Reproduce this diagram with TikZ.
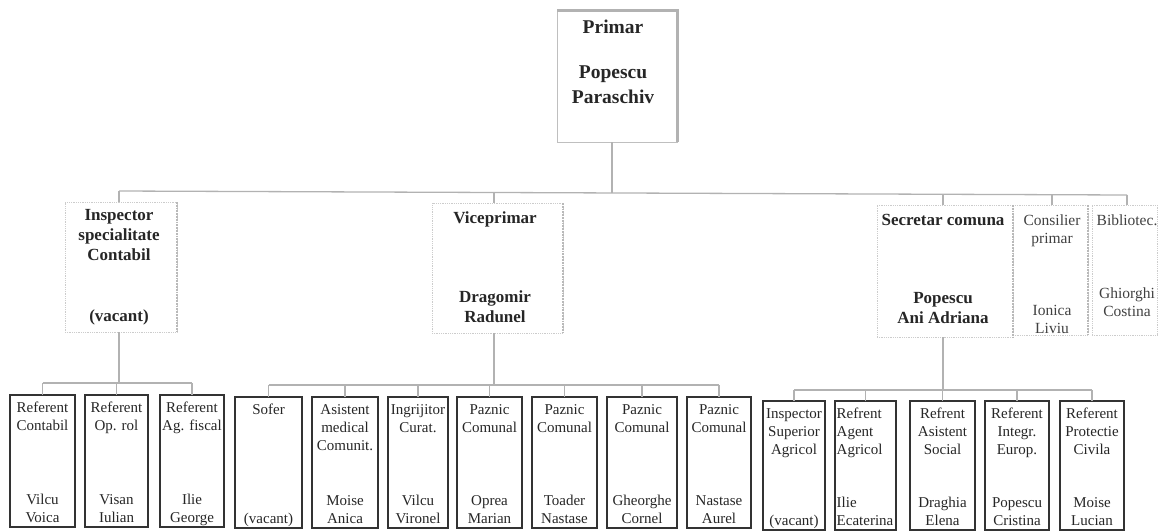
\documentclass[tikz,border=0pt]{standalone}
\usepackage{fontspec}
\setmainfont{Liberation Serif}
\begin{document}
\begin{tikzpicture}[x=1pt,y=-1pt,
  conn/.style={draw=gray!60, line width=1.3pt},
  bbox/.style={draw=black!80, line width=1.1pt, inner sep=0pt, outer sep=0pt},
  btext/.style={font=\fontsize{15}{18}\selectfont, align=center, inner sep=0pt, text=black!85},
  btextl/.style={btext, align=left},
  mbox/.style={draw=gray!40, densely dotted, line width=0.8pt, inner sep=0pt, outer sep=0pt},
  mshadow/.style={draw=gray!55, densely dotted, line width=1.8pt},
  mhead/.style={font=\bfseries\fontsize{17}{20}\selectfont, align=center, inner sep=0pt, text=black!85},
  mreg/.style={font=\fontsize{15.5}{18.5}\selectfont, align=center, inner sep=0pt, text=black!75},
  pbox/.style={draw=gray!50, line width=0.8pt, inner sep=0pt, outer sep=0pt},
  pshadow/.style={draw=gray!60, line width=3pt},
  ptext/.style={font=\bfseries\fontsize{19.5}{25}\selectfont, align=center, inner sep=0pt, text=black!85}]
\useasboundingbox (0,0) rectangle (1159,531);
\newcommand\bb[7]{%
  \pgfmathsetmacro\mybw{#3-#2}\pgfmathsetmacro\mybh{#5-#4}%
  \pgfmathsetmacro\mybx{(#2+#3)/2}\pgfmathsetmacro\myby{(#4+#5)/2}%
  \node[bbox, minimum width=\mybw pt, minimum height=\mybh pt] (#1) at (\mybx,\myby) {};
  \node[btext, anchor=north] (#1-t) at ([yshift=-4.5pt]#1.north) {\strut #6};
  \node[btext, anchor=south] (#1-b) at ([yshift=-1pt]#1.south) {#7\strut};}
\newcommand\bbl[7]{%
  \pgfmathsetmacro\mybw{#3-#2}\pgfmathsetmacro\mybh{#5-#4}%
  \pgfmathsetmacro\mybx{(#2+#3)/2}\pgfmathsetmacro\myby{(#4+#5)/2}%
  \node[bbox, minimum width=\mybw pt, minimum height=\mybh pt] (#1) at (\mybx,\myby) {};
  \node[btextl, anchor=north west] (#1-t) at ([xshift=1.5pt,yshift=-4.5pt]#1.north west) {\strut #6};
  \node[btextl, anchor=south west] (#1-b) at ([xshift=1.5pt,yshift=-1pt]#1.south west) {#7\strut};}

% ---- Primar ----
\node[pbox, minimum width=120pt, minimum height=132pt] (primar) at (617,76) {};
\draw[pshadow] (primar.north west) -- (primar.north east) -- (primar.south east);
\node[ptext, anchor=base] (primarT) at (613,33) {Primar};
\node[ptext, anchor=north] (primarN) at (613,61) {\strut Popescu\\Paraschiv};

% ---- middle level ----
\node[mbox, minimum width=112pt, minimum height=130pt] (insp) at (121,267) {};
\node[mbox, minimum width=131pt, minimum height=130pt] (vice) at (497.5,268) {};
\node[mbox, minimum width=136pt, minimum height=132pt] (secr) at (945,271) {};
\node[mbox, minimum width=75pt, minimum height=130pt] (cons) at (1050.5,270) {};
\node[mbox, minimum width=65pt, minimum height=130pt] (bib) at (1124.5,270) {};
\foreach \b in {insp,vice,secr,cons}{\draw[mshadow] (\b.north east) -- (\b.south east);}

\node[mhead, anchor=north] (inspT) at (119,206.6) {\strut Inspector\\specialitate\\Contabil};
\node[mhead, anchor=base] (inspB) at (119,321) {(vacant)};
\node[mhead, anchor=base] (viceT) at (495,223.6) {Viceprimar};
\node[mhead, anchor=north] (viceB) at (495,288.6) {\strut Dragomir\\Radunel};
\node[mhead, anchor=base] (secrT) at (943,225.6) {Secretar comuna};
\node[mhead, anchor=north] (secrB) at (943,289.6) {\strut Popescu\\Ani Adriana};
\node[mreg, anchor=north] (consT) at (1052,212) {\strut Consilier\\primar};
\node[mreg, anchor=north] (consB) at (1052,302) {\strut Ionica\\Liviu};
\node[mreg, anchor=base] (bibT) at (1127,225) {Bibliotec.};
\node[mreg, anchor=north] (bibB) at (1127,285) {\strut Ghiorghi\\Costina};

% ---- main bus ----
\coordinate (busL) at (119,191);
\coordinate (busR) at (1127,195);
\coordinate (busP) at (612,193);
\coordinate (busV) at (494,192.5);
\coordinate (busS) at (943,194.3);
\coordinate (busC) at (1052,194.7);
\draw[conn] (busL) -- (busR);
\draw[conn] ([xshift=-5pt]primar.south) -- (busP);
\draw[conn] (busL) -- (busL |- insp.north);
\draw[conn] (busV) -- (busV |- vice.north);
\draw[conn] (busS) -- (busS |- secr.north);
\draw[conn] (busC) -- (busC |- cons.north);
\draw[conn] (busR) -- (busR |- bib.north);

% ---- bottom boxes ----
\bb{rc}{10}{75}{395}{527}{Referent\\Contabil}{Vilcu\\Voica}
\bb{ro}{85}{148}{395}{527}{Referent\\Op. rol}{Visan\\Iulian}
\bb{raf}{160}{224}{395}{527}{Referent\\Ag. fiscal}{Ilie\\George}
\bb{sof}{235}{302}{397}{528}{Sofer}{(vacant)}
\bb{asm}{312}{378}{397}{528}{Asistent\\medical\\Comunit.}{Moise\\Anica}
\bb{ing}{388}{448}{397}{528}{Ingrijitor\\Curat.}{Vilcu\\Vironel}
\bb{pzA}{457}{522}{397}{528}{Paznic\\Comunal}{Oprea\\Marian}
\bb{pzB}{532}{597}{397}{528}{Paznic\\Comunal}{Toader\\Nastase}
\bb{pzC}{607}{677}{397}{528}{Paznic\\Comunal}{Gheorghe\\Cornel}
\bb{pzD}{687}{751}{397}{528}{Paznic\\Comunal}{Nastase\\Aurel}
\bb{isa}{763}{825}{401}{530}{Inspector\\Superior\\Agricol}{(vacant)}
\bbl{raa}{835}{896}{401}{530}{Refrent\\Agent\\Agricol}{Ilie\\Ecaterina}
\bb{ras}{910}{975}{401}{530}{Refrent\\Asistent\\Social}{Draghia\\Elena}
\bb{rie}{985}{1049}{401}{530}{Referent\\Integr.\\Europ.}{Popescu\\Cristina}
\bb{rpc}{1060}{1124}{401}{530}{Referent\\Protectie\\Civila}{Moise\\Lucian}

% ---- group buses ----
\coordinate (lbus) at (119,383);
\coordinate (mbus) at (494,385);
\coordinate (rbus) at (943,390);
\draw[conn] (lbus |- insp.south) -- (lbus);
\draw[conn] (mbus |- vice.south) -- (mbus);
\draw[conn] (rbus |- secr.south) -- (rbus);
\draw[conn] (rc.north |- lbus) -- (raf.north |- lbus);
\draw[conn] (sof.north |- mbus) -- (pzD.north |- mbus);
\draw[conn] (isa.north |- rbus) -- (rpc.north |- rbus);
\foreach \b in {rc,ro,raf}{\draw[conn] (\b.north |- lbus) -- (\b.north);}
\foreach \b in {sof,asm,ing,pzA,pzB,pzC,pzD}{\draw[conn] (\b.north |- mbus) -- (\b.north);}
\foreach \b in {isa,raa,ras,rie,rpc}{\draw[conn] (\b.north |- rbus) -- (\b.north);}
\end{tikzpicture}
\end{document}
